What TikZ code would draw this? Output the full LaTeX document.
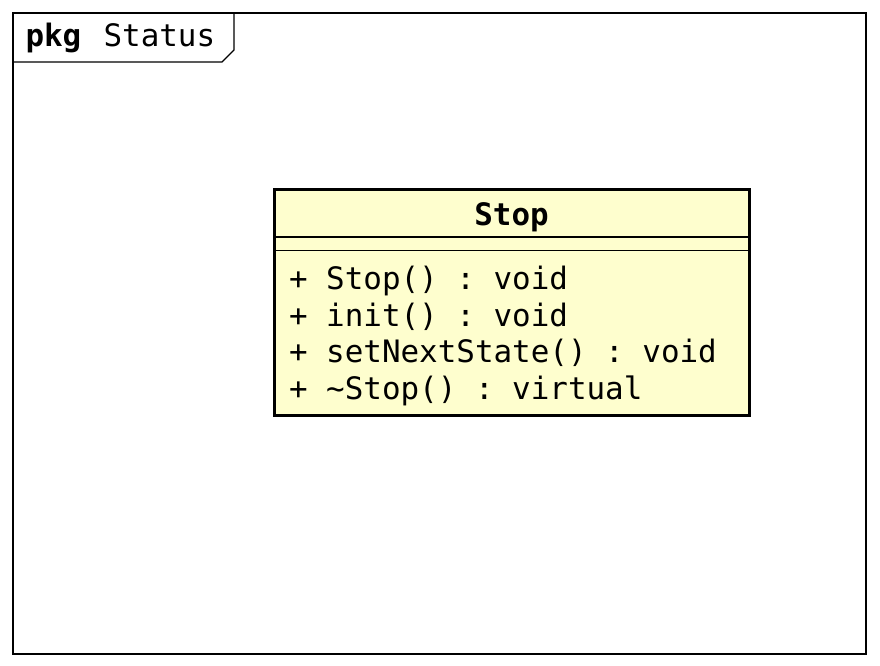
\documentclass[tikz,border=0pt]{standalone}
\usepackage{fontspec}
\setmonofont{DejaVu Sans Mono}
\usetikzlibrary{shapes,
                positioning}
\definecolor{classfill}{HTML}{FEFECE}
\newcommand{\umlfont}{\ttfamily\fontsize{30.9}{36.7}\selectfont}
\newcommand{\umllines}[1]{\vtop{\baselineskip=36.7pt #1}}
\tikzset{package/.style =
   {rectangle,
    draw,
    outer sep=0pt,
    line width=1.2pt,
    minimum width=853pt,
    minimum height=641pt}}
\tikzset{package-tab/.style =
   {rectangle,
    outer sep=0pt,
    inner xsep=12.5pt,
    inner ysep=0pt,
    text height=33.7pt,
    text depth=15.3pt,
    font=\umlfont}}
\tikzset{class/.style =
   {rectangle split,
    rectangle split parts=3,
    rectangle split draw splits=false,
    rectangle split part align={center, left, left},
    draw,
    fill=classfill,
    outer sep=0pt,
    line width=3pt,
    minimum width=475pt,
    inner xsep=15pt,
    inner ysep=3pt,
    font=\umlfont}}
\tikzset{split/.style = {draw, line width=1.2pt}}

\begin{document}
\begin{tikzpicture}

    \useasboundingbox (0,0) rectangle (880pt,-666pt);

    % package frame and its tab
    \node [package] (pkg) at (439.5pt,-333.5pt) {};
    \node [package-tab,
           anchor=north west] (pkgtab) at (pkg.north west)
    {\makebox[196pt][l]{\textbf{pkg}\hspace{0.72em}Status}};
    \draw [line width=1.2pt] (pkgtab.south west)
        -- ([xshift=-12pt]pkgtab.south east)
        -- ([yshift=12pt]pkgtab.south east)
        -- (pkgtab.north east);

    % class Stop
    \node [class,
           below right = 176pt and 261pt of pkg.north west,
           anchor=north west] (stop)
    {\nodepart{one}   {\bfseries\rule[-7.5pt]{0pt}{39pt}Stop}
     \nodepart{two}   {\rule{0pt}{0pt}}
     \nodepart{three} {\umllines{\hbox{\rule{0pt}{34.5pt}+ Stop() : void}
                                 \hbox{+ init() : void}
                                 \hbox{+ setNextState() : void}
                                 \hbox{+ \textasciitilde Stop() : virtual\rule[-11.4pt]{0pt}{0pt}}}}};
    \draw [split] (stop.one split west) -- (stop.one split east);
    \draw [split] (stop.two split west) -- (stop.two split east);

\end{tikzpicture}
\end{document}
